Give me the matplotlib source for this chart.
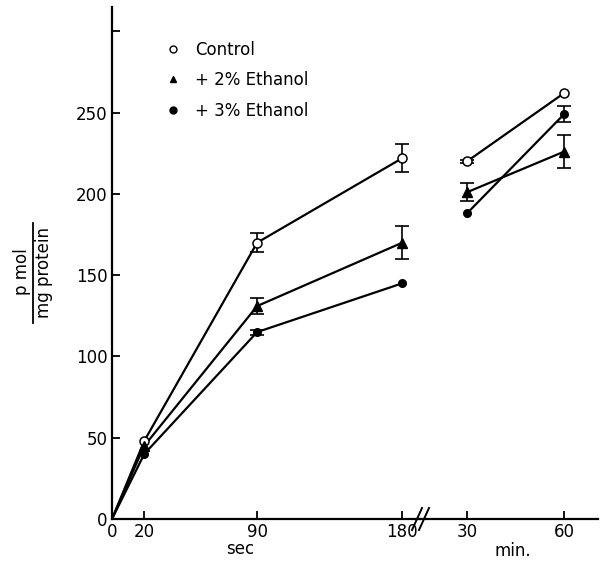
import matplotlib
matplotlib.use("Agg")
import matplotlib.pyplot as plt
from matplotlib.lines import Line2D

# time points
sec_times = [0, 20, 90, 180]
min_times = [30, 60]

# p mol / mg protein
control_sec = [0, 48, 170, 222]
control_sec_err = [0, 0, 6, 8.5]
control_min = [220, 262]
control_min_err = [1, 0]

eth2_sec = [0, 45, 131, 170]
eth2_sec_err = [0, 0, 5, 10]
eth2_min = [201, 226]
eth2_min_err = [5.5, 10]

eth3_sec = [0, 40, 115, 145]
eth3_sec_err = [0, 0, 1.5, 0]
eth3_min = [188, 249]
eth3_min_err = [0, 5]

labels = ["Control", "+ 2% Ethanol", "+ 3% Ethanol"]

W, H = 605, 566
fig = plt.figure(figsize=(W / 100, H / 100), dpi=100)
bottom = (H - 519) / H
top = (H - 7) / H
ax1 = fig.add_axes([112 / W, bottom, (420 - 112) / W, top - bottom])
ax2 = fig.add_axes([420 / W, bottom, (598 - 420) / W, top - bottom], sharey=ax1)

styles = [
    dict(marker="o", mfc="white", mec="black", ms=6.5, mew=1.1),
    dict(marker="^", mfc="black", mec="black", ms=6.5),
    dict(marker="o", mfc="black", mec="black", ms=5.5),
]

series = [
    (control_sec, control_sec_err, control_min, control_min_err),
    (eth2_sec, eth2_sec_err, eth2_min, eth2_min_err),
    (eth3_sec, eth3_sec_err, eth3_min, eth3_min_err),
]


def draw(ax, xs, ys, es, st, skip_first):
    ax.plot(xs, ys, color="black", lw=1.6, zorder=2)
    ex = [x for x, e in zip(xs, es) if e > 0]
    ey = [y for y, e in zip(ys, es) if e > 0]
    ee = [e for e in es if e > 0]
    if ee:
        ax.errorbar(ex, ey, yerr=ee, fmt="none", ecolor="black",
                    elinewidth=1.2, capsize=5, capthick=1.2, zorder=3)
    start = 1 if skip_first else 0
    ax.plot(xs[start:], ys[start:], ls="none", zorder=4, **st)


for (ys, es, ym, em), st in zip(series, styles):
    draw(ax1, sec_times, ys, es, st, True)
    draw(ax2, min_times, ym, em, st, False)

ax1.set_xlim(0, 191)
ax2.set_xlim(15.5, 70.5)
ax1.set_ylim(0, 315)

for ax in (ax1, ax2):
    ax.spines["top"].set_visible(False)
    ax.spines["right"].set_visible(False)
    for s in ax.spines.values():
        s.set_linewidth(1.6)
    ax.tick_params(direction="in", length=6, width=1.3, labelsize=12, pad=3)
    ax.patch.set_alpha(0)
ax2.spines["left"].set_visible(False)
ax2.tick_params(axis="y", left=False, labelleft=False)

ax1.set_yticks([0, 50, 100, 150, 200, 250, 300])
ax1.set_yticklabels(["0", "50", "100", "150", "200", "250", ""])
ax1.set_xticks(sec_times)
ax1.set_xticklabels(["0", "20", "90", "180"])
ax2.set_xticks(min_times)
ax2.set_xticklabels(["30", "60"])

# axis break marks
for dx in (-4, 3):
    fig.add_artist(Line2D([(416 + dx) / W, (426 + dx) / W],
                          [(H - 530) / H, (H - 508) / H],
                          color="black", lw=1.4))

fig.text(240 / W, 1 - 549 / H, "sec", ha="center", va="center", fontsize=12)
fig.text(513 / W, 1 - 551 / H, "min.", ha="center", va="center", fontsize=12)

# y label as a fraction
fig.text(22 / W, 1 - 272 / H, "p mol", rotation=90, ha="center", va="center", fontsize=12)
fig.text(44 / W, 1 - 272 / H, "mg protein", rotation=90, ha="center", va="center", fontsize=12)
fig.add_artist(Line2D([33 / W, 33 / W], [1 - 223 / H, 1 - 323 / H], color="black", lw=1.3))

handles = [
    Line2D([], [], ls="none", marker="o", mfc="white", mec="black", ms=5, mew=1),
    Line2D([], [], ls="none", marker="^", mfc="black", mec="black", ms=5),
    Line2D([], [], ls="none", marker="o", mfc="black", mec="black", ms=5),
]
ax1.legend(handles, labels, loc="upper left", bbox_to_anchor=(0.15, 0.947),
           frameon=False, fontsize=12, handlelength=1.0, handletextpad=0.8,
           labelspacing=0.75, borderaxespad=0)

fig.savefig("out.png", dpi=100)
